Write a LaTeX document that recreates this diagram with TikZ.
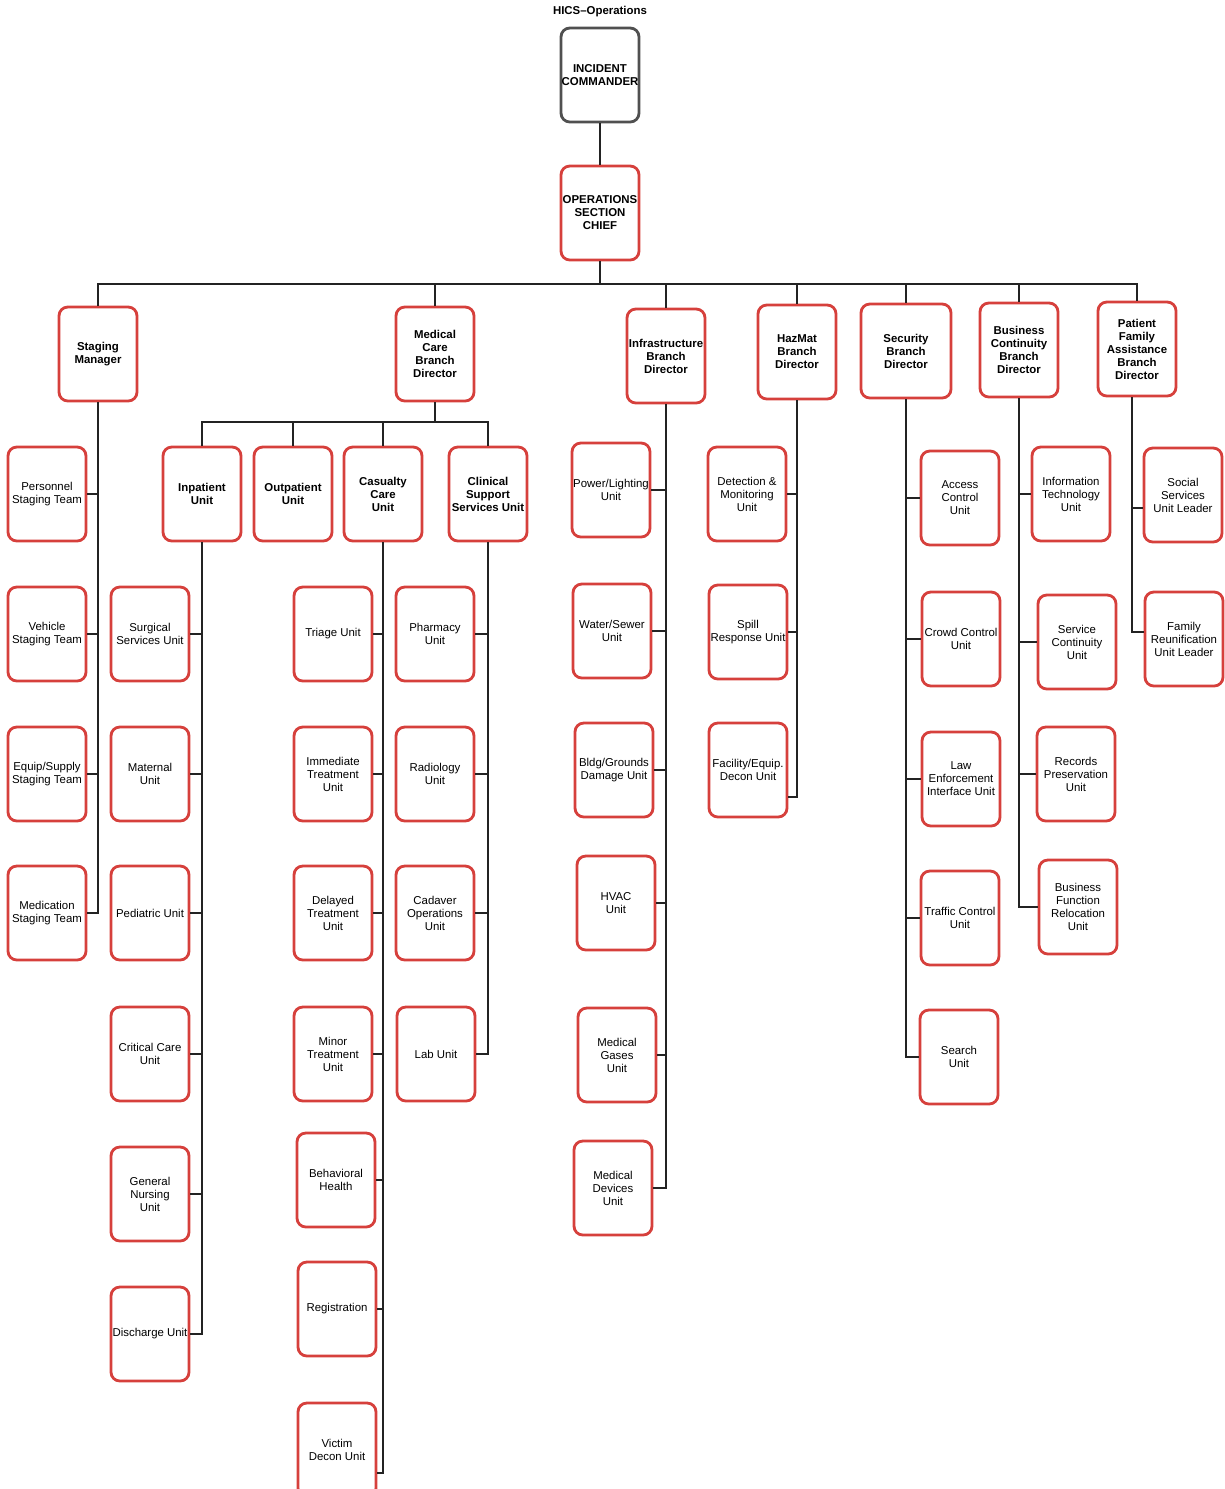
\documentclass[tikz,border=0pt]{standalone}
\usepackage{fontspec}
\setmainfont{Liberation Sans}
\definecolor{boxred}{RGB}{214,64,60}
\definecolor{boxgray}{RGB}{80,80,80}
\definecolor{linegray}{RGB}{35,35,35}

\begin{document}
\begin{tikzpicture}[x=0.02cm,y=-0.02cm,
  every node/.style={font=\fontsize{6.5}{7.4}\selectfont,align=center},
  unit/.style={draw=boxred,line width=1.6pt,rounded corners=5pt,fill=white,
    minimum width=1.56cm,minimum height=1.88cm,inner sep=0pt},
  head/.style={unit,font=\fontsize{6.5}{7.4}\selectfont\bfseries},
  link/.style={draw=linegray,line width=0.9pt}]
  \useasboundingbox (0,0) rectangle (1225,1489);

  % top of the chart
  \node[font=\fontsize{6.5}{7.4}\selectfont\bfseries] (title) at (600,12) {HICS--Operations};
  \node[head,draw=boxgray] (ic) at (600,75) {INCIDENT\\COMMANDER};
  \node[head] (osc) at (600,213) {OPERATIONS\\SECTION\\CHIEF};
  \coordinate (bus) at (600,284);

  % branches
  \node[head] (stag) at (98,354) {Staging\\Manager};
  \node[head] (med) at (435,354) {Medical\\Care\\Branch\\Director};
  \node[head] (infra) at (666,356) {Infrastructure\\Branch\\Director};
  \node[head] (haz) at (797,352) {HazMat\\Branch\\Director};
  \node[head,minimum width=1.8cm] (sec) at (906,351) {Security\\Branch\\Director};
  \node[head] (bcb) at (1019,350) {Business\\Continuity\\Branch\\Director};
  \node[head] (pfa) at (1137,349) {Patient\\Family\\Assistance\\Branch\\Director};

  % staging teams
  \node[unit] (pers) at (47,494) {Personnel\\Staging Team};
  \node[unit] (veh) at (47,634) {Vehicle\\Staging Team};
  \node[unit] (equip) at (47,774) {Equip/Supply\\Staging Team};
  \node[unit] (medic) at (47,913) {Medication\\Staging Team};

  % medical care units
  \coordinate (medbus) at (435,422);
  \node[head] (inpat) at (202,494) {Inpatient\\Unit};
  \node[head] (outpat) at (293,494) {Outpatient\\Unit};
  \node[head] (cas) at (383,494) {Casualty\\Care\\Unit};
  \node[head] (clin) at (488,494) {Clinical\\Support\\Services Unit};

  \node[unit] (surg) at (150,634) {Surgical\\Services Unit};
  \node[unit] (mat) at (150,774) {Maternal\\Unit};
  \node[unit] (ped) at (150,913) {Pediatric Unit};
  \node[unit] (crit) at (150,1054) {Critical Care\\Unit};
  \node[unit] (gen) at (150,1194) {General\\Nursing\\Unit};
  \node[unit] (dis) at (150,1334) {Discharge Unit};

  \node[unit] (tri) at (333,634) {Triage Unit};
  \node[unit] (imm) at (333,774) {Immediate\\Treatment\\Unit};
  \node[unit] (del) at (333,913) {Delayed\\Treatment\\Unit};
  \node[unit] (min) at (333,1054) {Minor\\Treatment\\Unit};
  \node[unit] (beh) at (336,1180) {Behavioral\\Health};
  \node[unit] (reg) at (337,1309) {Registration};
  \node[unit] (vic) at (337,1450) {Victim\\Decon Unit};

  \node[unit] (pharm) at (435,634) {Pharmacy\\Unit};
  \node[unit] (rad) at (435,774) {Radiology\\Unit};
  \node[unit] (cad) at (435,913) {Cadaver\\Operations\\Unit};
  \node[unit] (lab) at (436,1054) {Lab Unit};

  % infrastructure units
  \node[unit] (pow) at (611,490) {Power/Lighting\\Unit};
  \node[unit] (wat) at (612,631) {Water/Sewer\\Unit};
  \node[unit] (bldg) at (614,770) {Bldg/Grounds\\Damage Unit};
  \node[unit] (hvac) at (616,903) {HVAC\\Unit};
  \node[unit] (gas) at (617,1055) {Medical\\Gases\\Unit};
  \node[unit] (dev) at (613,1188) {Medical\\Devices\\Unit};

  % hazmat units
  \node[unit] (det) at (747,494) {Detection \&\\Monitoring\\Unit};
  \node[unit] (spill) at (748,632) {Spill\\Response Unit};
  \node[unit] (fac) at (748,770) {Facility/Equip.\\Decon Unit};

  % security units
  \node[unit] (acc) at (960,498) {Access\\Control\\Unit};
  \node[unit] (crowd) at (961,639) {Crowd Control\\Unit};
  \node[unit] (law) at (961,779) {Law\\Enforcement\\Interface Unit};
  \node[unit] (traf) at (960,918) {Traffic Control\\Unit};
  \node[unit] (srch) at (959,1057) {Search\\Unit};

  % business continuity units
  \node[unit] (it) at (1071,494) {Information\\Technology\\Unit};
  \node[unit] (serv) at (1077,642) {Service\\Continuity\\Unit};
  \node[unit] (rec) at (1076,774) {Records\\Preservation\\Unit};
  \node[unit] (bfr) at (1078,907) {Business\\Function\\Relocation\\Unit};

  % patient family units
  \node[unit] (soc) at (1183,495) {Social\\Services\\Unit Leader};
  \node[unit] (fam) at (1184,639) {Family\\Reunification\\Unit Leader};

  % connectors
  \draw[link] (ic) -- (osc);
  \draw[link] (osc) -- (bus);
  \foreach \b in {stag,med,infra,haz,sec,bcb}
    \draw[link] (bus) -| (\b);
  \draw[link] (bus) -| (pfa);
  \draw[link] (med) -- (medbus);
  \foreach \u in {inpat,outpat,cas,clin}
    \draw[link] (medbus) -| (\u);

  \foreach \c in {pers,veh,equip,medic}
    \draw[link] (stag) |- (\c);
  \foreach \c in {surg,mat,ped,crit,gen,dis}
    \draw[link] (inpat) |- (\c);
  \foreach \c in {tri,imm,del,min,beh,reg}
    \draw[link] (cas) |- (\c);
  \draw[link] (cas) |- ([yshift=-0.46cm]vic.east);
  \foreach \c in {pharm,rad,cad,lab}
    \draw[link] (clin) |- (\c);
  \foreach \c in {pow,wat,bldg,hvac,gas,dev}
    \draw[link] (infra) |- (\c);
  \draw[link] (haz) |- (det);
  \draw[link] (haz) |- (spill);
  \draw[link] (haz) |- ([yshift=-0.54cm]fac.east);
  \foreach \c in {acc,crowd,law,traf,srch}
    \draw[link] (sec) |- (\c);
  \foreach \c in {it,serv,rec,bfr}
    \draw[link] (bcb) |- (\c);
  \draw[link] ([xshift=-0.1cm]pfa.south) |- ([yshift=-0.26cm]soc.west);
  \draw[link] ([xshift=-0.1cm]pfa.south) |- ([yshift=0.14cm]fam.west);
\end{tikzpicture}
\end{document}
